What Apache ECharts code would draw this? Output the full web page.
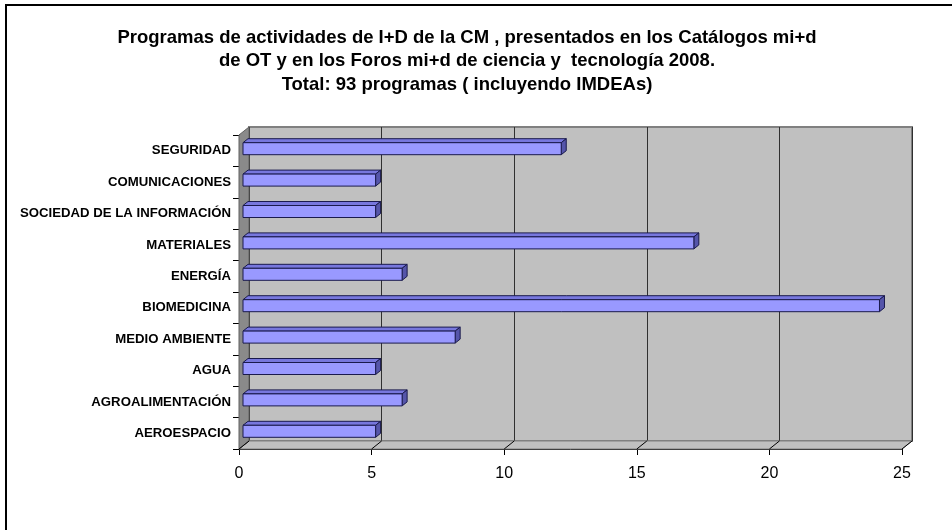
<!DOCTYPE html>
<html>
<head>
<meta charset="utf-8">
<script src="https://cdn.jsdelivr.net/npm/echarts@6/dist/echarts.min.js"></script>
<style>html,body{margin:0;padding:0;background:#fff;}#c{width:952px;height:530px;}</style>
</head>
<body>
<div id="c"></div>
<script>
// Data (top to bottom)
const categories = ['SEGURIDAD','COMUNICACIONES','SOCIEDAD DE LA INFORMACIÓN','MATERIALES','ENERGÍA','BIOMEDICINA','MEDIO AMBIENTE','AGUA','AGROALIMENTACIÓN','AEROESPACIO'];
const values = [12, 5, 5, 17, 6, 24, 8, 5, 6, 5];
const xTicks = [0, 5, 10, 15, 20, 25];
const titleLines = [
  'Programas de actividades de I+D de la CM , presentados en los Catálogos mi+d',
  'de OT y en los Foros mi+d de ciencia y  tecnología 2008.',
  'Total: 93 programas ( incluyendo IMDEAs)'
];

const DEPTH = [10, -8];      // back wall offset
const BAR_OFF = [4, -2];     // bar front-face offset
const BAR_D = [5, -4];       // bar depth
const BAR_H = 12;
const FONT = "'Liberation Sans', Arial, sans-serif";

const chart = echarts.init(document.getElementById('c'), null, {renderer: 'canvas'});

function wallsItem(params, api) {
  const band = api.size([0, 1])[1];
  const pTop = api.coord([0, 0]);
  const pBot = api.coord([0, categories.length - 1]);
  const top = pTop[1] - band / 2;
  const bottom = pBot[1] + band / 2;
  const left = pTop[0];
  const right = api.coord([xTicks[xTicks.length - 1], 0])[0];
  const children = [];
  children.push({type: 'polygon', shape: {points: [[left, bottom], [left + DEPTH[0], bottom + DEPTH[1]], [right + DEPTH[0], bottom + DEPTH[1]], [right, bottom]]},
    style: {fill: '#c0c0c0', stroke: '#808080', lineWidth: 1}});
  children.push({type: 'polygon', shape: {points: [[left, top], [left + DEPTH[0], top + DEPTH[1]], [left + DEPTH[0], bottom + DEPTH[1]], [left, bottom]]},
    style: {fill: '#8a8a8a', stroke: '#606060', lineWidth: 1}});
  xTicks.forEach(function (t) {
    const x = api.coord([t, 0])[0];
    children.push({type: 'line', shape: {x1: x, y1: bottom, x2: x + DEPTH[0], y2: bottom + DEPTH[1]}, style: {stroke: '#000', lineWidth: 1}});
  });
  return {type: 'group', children: children};
}

function barItem(params, api) {
  const v = api.value(0);
  const idx = api.value(1);
  const p0 = api.coord([0, idx]);
  const p1 = api.coord([v, idx]);
  const x0 = p0[0] + BAR_OFF[0];
  const x1 = p1[0] + BAR_OFF[0];
  const yc = p0[1] + BAR_OFF[1];
  const yt = yc - BAR_H / 2;
  const yb = yc + BAR_H / 2;
  const stroke = '#1a1a4d';
  return {type: 'group', children: [
    {type: 'polygon', shape: {points: [[x0, yt], [x0 + BAR_D[0], yt + BAR_D[1]], [x1 + BAR_D[0], yt + BAR_D[1]], [x1, yt]]},
      style: {fill: '#7777dd', stroke: stroke, lineWidth: 1}},
    {type: 'polygon', shape: {points: [[x1, yt], [x1 + BAR_D[0], yt + BAR_D[1]], [x1 + BAR_D[0], yb + BAR_D[1]], [x1, yb]]},
      style: {fill: '#5555aa', stroke: stroke, lineWidth: 1}},
    {type: 'rect', shape: {x: x0, y: yt, width: x1 - x0, height: BAR_H},
      style: {fill: '#9999ff', stroke: stroke, lineWidth: 1}}
  ]};
}

chart.setOption({
  backgroundColor: '#ffffff',
  animation: false,
  title: {
    text: titleLines.join('\n'),
    left: 467, top: 26, padding: 0, textAlign: 'center',
    textStyle: {fontFamily: FONT, fontWeight: 'bold', fontSize: 18.5, lineHeight: 23.5, color: '#000'}
  },
  graphic: [{type: 'rect', z: 100, silent: true, shape: {x: 6, y: 5, width: 1000, height: 600}, style: {fill: 'none', stroke: '#000', lineWidth: 2}}],
  grid: [
    {left: 249, top: 127, width: 663, height: 314, show: true, backgroundColor: '#c0c0c0', borderColor: '#808080', borderWidth: 2, containLabel: false},
    {left: 239, top: 135, width: 663, height: 314, containLabel: false}
  ],
  xAxis: [
    {gridIndex: 0, type: 'value', min: 0, max: 25, interval: 5,
      axisLine: {show: false}, axisTick: {show: false}, axisLabel: {show: false},
      splitLine: {show: true, lineStyle: {color: '#303030', width: 1}}},
    {gridIndex: 1, type: 'value', min: 0, max: 25, interval: 5,
      axisLine: {show: true, lineStyle: {color: '#000', width: 1}},
      axisTick: {show: true, length: 6, lineStyle: {color: '#000'}},
      axisLabel: {show: true, margin: 17, fontFamily: FONT, fontSize: 16, color: '#000'},
      splitLine: {show: false}}
  ],
  yAxis: [
    {gridIndex: 0, type: 'category', data: categories, inverse: true, show: false},
    {gridIndex: 1, type: 'category', data: categories, inverse: true,
      axisLine: {show: true, lineStyle: {color: '#000', width: 1}},
      axisTick: {show: true, length: 6, alignWithLabel: false, lineStyle: {color: '#000'}},
      axisLabel: {margin: 8, fontFamily: FONT, fontSize: 13.2, fontWeight: 'bold', color: '#000'},
      splitLine: {show: false}}
  ],
  series: [
    {type: 'custom', xAxisIndex: 1, yAxisIndex: 1, renderItem: wallsItem, data: [[0, 0]], z: 1, silent: true, clip: false},
    {type: 'custom', xAxisIndex: 1, yAxisIndex: 1, renderItem: barItem, encode: {x: 0, y: 1},
      data: values.map(function (v, i) { return [v, i]; }), z: 3, clip: false}
  ]
});
</script>
</body>
</html>
